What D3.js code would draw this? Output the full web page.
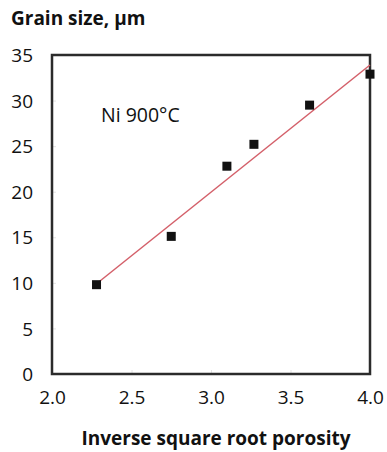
<!DOCTYPE html>
<html>
<head>
<meta charset="utf-8">
<script src="https://cdn.jsdelivr.net/npm/d3@7"></script>
<style>
  html, body { margin: 0; padding: 0; background: #fff; }
  svg { display: block; }
  text { font-family: "Open Sans", "Liberation Sans", sans-serif; fill: #111; }
</style>
</head>
<body>
<svg id="chart" width="387" height="452"></svg>
<script>
// Grain size of Ni sintered at 900 °C versus inverse square root porosity
const invSqrtPorosity = [2.28, 2.75, 3.10, 3.27, 3.62, 4.00];
const grainSize = [9.8, 15.1, 22.8, 25.2, 29.5, 32.9];

// Linear trend line end points
const fitX = [2.28, 4.00];
const fitY = [9.9, 33.9];

const xTicks = [2.0, 2.5, 3.0, 3.5, 4.0];
const yTicks = [0, 5, 10, 15, 20, 25, 30, 35];

const svg = d3.select("#chart");
const plot = { left: 52, right: 370, top: 55, bottom: 374 };

const x = d3.scaleLinear().domain([2.0, 4.0]).range([plot.left, plot.right]);
const y = d3.scaleLinear().domain([0, 35]).range([plot.bottom, plot.top]);

// Faint tick marks
const xAxis = d3.axisBottom(x).tickValues(xTicks).tickSize(5).tickFormat(d3.format(".1f"));
const yAxis = d3.axisLeft(y).tickValues(yTicks).tickSize(5).tickFormat(d3.format("d"));

const gx = svg.append("g").attr("transform", `translate(0,${plot.bottom})`).call(xAxis);
gx.select(".domain").remove();
gx.selectAll(".tick line").attr("stroke", "#e4e4e4").attr("y2", -4);
gx.selectAll(".tick text")
  .attr("y", 17)
  .attr("dy", "0.71em")
  .style("font-size", "19px")
  .style("fill", "#111");

const gy = svg.append("g").attr("transform", `translate(${plot.left},0)`).call(yAxis);
gy.select(".domain").remove();
gy.selectAll(".tick line").attr("stroke", "#e4e4e4").attr("x2", 4);
gy.selectAll(".tick text")
  .attr("x", -19)
  .attr("dy", "0.35em")
  .style("font-size", "19px")
  .style("fill", "#111");

// Plot frame
svg.append("rect")
  .attr("x", plot.left)
  .attr("y", plot.top)
  .attr("width", plot.right - plot.left)
  .attr("height", plot.bottom - plot.top)
  .attr("fill", "none")
  .attr("stroke", "#2b2b2b")
  .attr("stroke-width", 2.5);

// Trend line
svg.append("line")
  .attr("x1", x(fitX[0])).attr("y1", y(fitY[0]))
  .attr("x2", x(fitX[1])).attr("y2", y(fitY[1]))
  .attr("stroke", "#d4606a")
  .attr("stroke-width", 1.5);

// Data markers
const pts = invSqrtPorosity.map((v, i) => ({ x: v, y: grainSize[i] }));
const ms = 9;
svg.append("g").selectAll("rect")
  .data(pts)
  .join("rect")
  .attr("x", d => x(d.x) - ms / 2)
  .attr("y", d => y(d.y) - ms / 2)
  .attr("width", ms)
  .attr("height", ms)
  .attr("fill", "#111");

// Annotation
svg.append("text")
  .attr("x", 101)
  .attr("y", 122)
  .style("font-size", "19.5px")
  .text("Ni 900°C");

// Axis titles
svg.append("text")
  .attr("x", 11)
  .attr("y", 25)
  .style("font-size", "19px")
  .style("font-weight", "bold")
  .text("Grain size, µm");

svg.append("text")
  .attr("x", 216)
  .attr("y", 445)
  .attr("text-anchor", "middle")
  .style("font-size", "19px")
  .style("font-weight", "bold")
  .text("Inverse square root porosity");
</script>
</body>
</html>
